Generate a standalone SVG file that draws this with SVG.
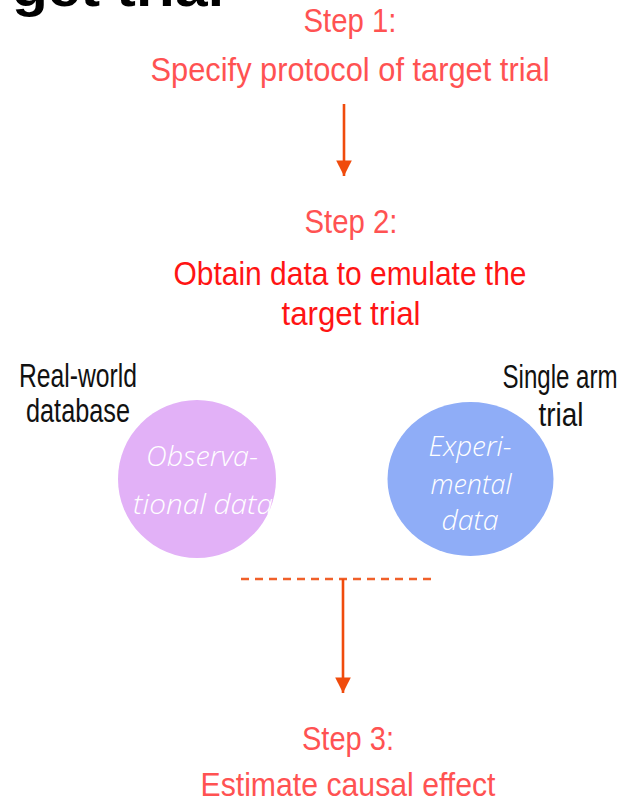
<svg xmlns="http://www.w3.org/2000/svg" width="631" height="802" viewBox="0 0 631 802">
  <defs>
    <marker id="arrowhead" viewBox="0 0 10 10" refX="10" refY="5" markerWidth="6" markerHeight="6" markerUnits="strokeWidth" orient="auto">
      <path d="M0,0 L10,5 L0,10 Z" fill="#F04B0C"/>
    </marker>
    <style>
      .step { font-family: "Liberation Sans", Arial, sans-serif; font-size: 33px; fill: #FF5252; text-anchor: middle; }
      .goal { font-family: "Liberation Sans", Arial, sans-serif; font-size: 33px; fill: #FF1414; text-anchor: middle; }
      .source { font-family: "Liberation Sans", Arial, sans-serif; font-size: 33px; fill: #111111; text-anchor: middle; }
      .inner { font-family: "Open Sans", "Liberation Sans", sans-serif; font-style: italic; font-weight: 300; font-size: 28px; fill: #FFFFFF; text-anchor: middle; }
      .flow { stroke: #F04B0C; stroke-width: 2.6; fill: none; }
      .merge { stroke: #F0602A; stroke-width: 2.4; stroke-dasharray: 8 6; fill: none; }
      .title { font-family: "Liberation Sans", Arial, sans-serif; font-weight: bold; font-size: 54px; fill: #000000; }
    </style>
  </defs>
  <rect width="631" height="802" fill="#FFFFFF"/>

  <!-- heading text running off the top edge -->
  <text class="title" x="12" y="6" textLength="212" lengthAdjust="spacingAndGlyphs">get trial</text>

  <g id="step1">
    <text class="step" x="350" y="32" textLength="93" lengthAdjust="spacingAndGlyphs">Step 1:</text>
    <text class="step" x="350" y="81" textLength="399" lengthAdjust="spacingAndGlyphs">Specify protocol of target trial</text>
  </g>

  <g id="step2">
    <text class="step" x="351" y="233" textLength="93" lengthAdjust="spacingAndGlyphs">Step 2:</text>
    <text class="goal" x="350" y="285" textLength="353" lengthAdjust="spacingAndGlyphs">Obtain data to emulate the</text>
    <text class="goal" x="351" y="325" textLength="139" lengthAdjust="spacingAndGlyphs">target trial</text>
  </g>

  <g id="real-world-database">
    <text class="source" x="78" y="387" textLength="118" lengthAdjust="spacingAndGlyphs">Real-world</text>
    <text class="source" x="78" y="422" textLength="104" lengthAdjust="spacingAndGlyphs">database</text>
  </g>

  <g id="single-arm-trial">
    <text class="source" x="560" y="388" textLength="115" lengthAdjust="spacingAndGlyphs">Single arm</text>
    <text class="source" x="561" y="426" textLength="45" lengthAdjust="spacingAndGlyphs">trial</text>
  </g>

  <g id="observational-data">
    <circle cx="197" cy="479" r="79" fill="#E2B1F7"/>
    <text class="inner" x="202" y="466" textLength="112" lengthAdjust="spacingAndGlyphs">Observa-</text>
    <text class="inner" x="203" y="514" textLength="140" lengthAdjust="spacingAndGlyphs">tional  data</text>
  </g>

  <g id="experimental-data">
    <ellipse cx="470.5" cy="479" rx="83" ry="77" fill="#8FADF7"/>
    <text class="inner" x="470" y="456" textLength="83" lengthAdjust="spacingAndGlyphs">Experi-</text>
    <text class="inner" x="471" y="494" textLength="81" lengthAdjust="spacingAndGlyphs">mental</text>
    <text class="inner" x="470" y="530" textLength="57" lengthAdjust="spacingAndGlyphs">data</text>
  </g>

  <g id="step3">
    <text class="step" x="348" y="750" textLength="92" lengthAdjust="spacingAndGlyphs">Step 3:</text>
    <text class="step" x="348" y="796" textLength="295" lengthAdjust="spacingAndGlyphs">Estimate causal effect</text>
  </g>

  <g id="connectors">
    <line class="flow" x1="344" y1="104" x2="344" y2="176" marker-end="url(#arrowhead)"/>
    <line class="merge" x1="241" y1="579" x2="433" y2="579"/>
    <line class="flow" x1="343" y1="579" x2="343" y2="693" marker-end="url(#arrowhead)"/>
  </g>
</svg>
